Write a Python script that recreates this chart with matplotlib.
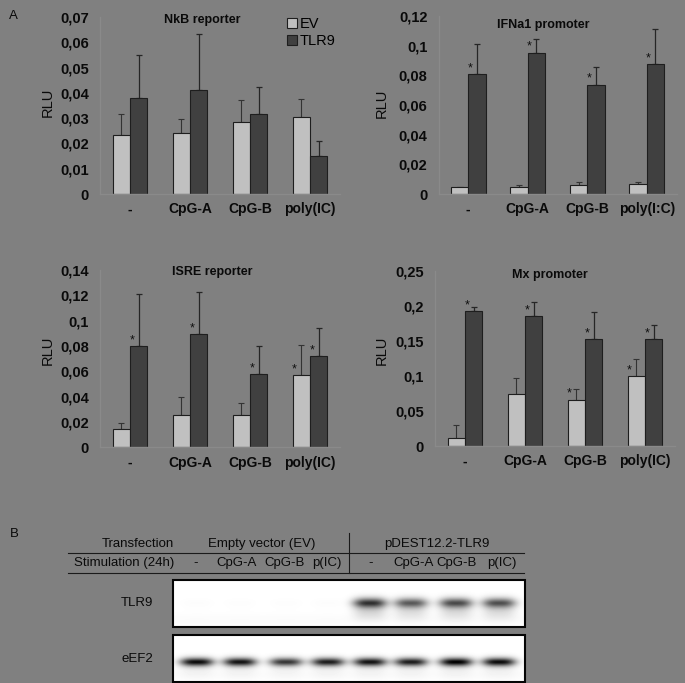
import numpy as np
import matplotlib
matplotlib.use('Agg')
import matplotlib.pyplot as plt
from matplotlib.patches import Patch, Rectangle
from matplotlib.ticker import FuncFormatter, MultipleLocator

plt.rcParams['font.family'] = ['Liberation Sans', 'DejaVu Sans']

# ---- data ----
cats = ['-', 'CpG-A', 'CpG-B', 'poly(IC)']
cats_ifn = ['-', 'CpG-A', 'CpG-B', 'poly(I:C)']

nkb_ev = [0.0233, 0.0243, 0.0286, 0.0303]
nkb_ev_err = [0.0084, 0.0052, 0.0085, 0.0071]
nkb_tlr9 = [0.0378, 0.0413, 0.0318, 0.0150]
nkb_tlr9_err = [0.0173, 0.0221, 0.0107, 0.0058]

ifn_ev = [0.0045, 0.0050, 0.0063, 0.0067]
ifn_ev_err = [0.0005, 0.0013, 0.0016, 0.0012]
ifn_tlr9 = [0.0809, 0.0953, 0.0737, 0.0876]
ifn_tlr9_err = [0.0204, 0.0090, 0.0119, 0.0234]

isre_ev = [0.0142, 0.0253, 0.0255, 0.0568]
isre_ev_err = [0.0048, 0.0142, 0.0092, 0.0237]
isre_tlr9 = [0.0800, 0.0892, 0.0576, 0.0721]
isre_tlr9_err = [0.0408, 0.0337, 0.0227, 0.0219]

mx_ev = [0.0109, 0.0737, 0.0661, 0.0998]
mx_ev_err = [0.0186, 0.0228, 0.0147, 0.0238]
mx_tlr9 = [0.1925, 0.1849, 0.1530, 0.1530]
mx_tlr9_err = [0.0062, 0.0199, 0.0376, 0.0195]

# significance marks
nkb_star_ev = [0, 0, 0, 0]
nkb_star_tlr9 = [0, 0, 0, 0]
ifn_star_ev = [0, 0, 0, 0]
ifn_star_tlr9 = [1, 1, 1, 1]
isre_star_ev = [0, 0, 0, 1]
isre_star_tlr9 = [1, 1, 1, 1]
mx_star_ev = [0, 0, 1, 1]
mx_star_tlr9 = [1, 1, 1, 1]

# western blot
transfections = ['Empty vector (EV)', 'pDEST12.2-TLR9']
lanes = ['-', 'CpG-A', 'CpG-B', 'p(IC)', '-', 'CpG-A', 'CpG-B', 'p(IC)']
tlr9_band = [0.012, 0.01, 0.01, 0.012, 0.78, 0.62, 0.68, 0.66]
eef2_band = [0.95, 0.92, 0.78, 0.88, 0.92, 0.88, 1.0, 0.95]

# ---- style ----
BG = '#808080'
EV_C = '#c0c0c0'
TLR_C = '#404040'
EDGE = '#1e1e1e'
W, H = 685, 683
BW = 0.29


def fmt(v, pos):
    s = '{:g}'.format(round(v, 4))
    return s.replace('.', ',')


def draw_panel(ax, labels, ev, ev_err, tl, tl_err, st_ev, st_tl, ymax, step,
               title, title_xy, rlu_xy):
    x = np.arange(len(labels))
    ax.set_facecolor(BG)
    ax.bar(x - BW / 2, ev, BW, color=EV_C, edgecolor=EDGE, linewidth=0.8,
           zorder=2)
    ax.bar(x + BW / 2, tl, BW, color=TLR_C, edgecolor=EDGE, linewidth=0.8,
           zorder=2)
    ax.errorbar(x - BW / 2, ev, yerr=[np.zeros(len(ev)), ev_err], fmt='none',
                ecolor='#333333', elinewidth=0.8, capsize=2.5, capthick=0.8,
                zorder=1)
    ax.errorbar(x + BW / 2, tl, yerr=[np.zeros(len(tl)), tl_err], fmt='none',
                ecolor='#262626', elinewidth=0.9, capsize=2.5, capthick=0.9,
                zorder=1)
    for i in range(len(labels)):
        if st_ev[i]:
            ax.annotate('*', (x[i] - BW + 0.1 * BW, ev[i]), xytext=(0, 2),
                        textcoords='offset points', ha='center',
                        va='baseline', fontsize=9, color='#101010')
        if st_tl[i]:
            ax.annotate('*', (x[i] + 0.1 * BW, tl[i]), xytext=(0, 2),
                        textcoords='offset points', ha='center',
                        va='baseline', fontsize=9, color='#101010')
    ax.set_xlim(-0.5, len(labels) - 0.5)
    ax.set_ylim(0, ymax)
    ax.yaxis.set_major_locator(MultipleLocator(step))
    ax.yaxis.set_major_formatter(FuncFormatter(fmt))
    ax.set_xticks(x)
    ax.set_xticklabels(labels)
    ax.tick_params(axis='both', length=0, labelcolor='#0a0a0a')
    ax.tick_params(axis='y', pad=8, labelsize=10.5)
    ax.tick_params(axis='x', pad=6, labelsize=10)
    for lab in ax.get_xticklabels() + ax.get_yticklabels():
        lab.set_fontweight('bold')
    for s in ['top', 'right']:
        ax.spines[s].set_visible(False)
    for s in ['left', 'bottom']:
        ax.spines[s].set_color('#8a8a8a')
        ax.spines[s].set_linewidth(1.0)
    ax.text(title_xy[0], title_xy[1], title, transform=ax.transAxes,
            ha='center', va='center', fontsize=9, fontweight='bold',
            color='#0a0a0a')
    ax.text(rlu_xy[0], rlu_xy[1], 'RLU', transform=ax.transAxes,
            rotation=90, ha='center', va='center', fontsize=10.5,
            color='#0a0a0a')


fig = plt.figure(figsize=(W / 100, H / 100), dpi=100, facecolor=BG)

# overlay in pixel coordinates for labels and the blot
bx = fig.add_axes([0, 0, 1, 1])
bx.set_xlim(0, W)
bx.set_ylim(H, 0)
bx.axis('off')
bx.patch.set_visible(False)


def px_axes(l, r, top, bottom):
    return fig.add_axes([l / W, 1 - bottom / H, (r - l) / W, (bottom - top) / H])


ax1 = px_axes(100, 340, 17, 194)
ax2 = px_axes(438.5, 676.5, 16, 194)
ax3 = px_axes(100, 340, 270, 447.3)
ax4 = px_axes(435, 675, 270.7, 446)

draw_panel(ax1, cats, nkb_ev, nkb_ev_err, nkb_tlr9, nkb_tlr9_err,
           nkb_star_ev, nkb_star_tlr9, 0.07, 0.01, 'NkB reporter',
           (0.425, 0.983), (-0.217, 0.52))
draw_panel(ax2, cats_ifn, ifn_ev, ifn_ev_err, ifn_tlr9, ifn_tlr9_err,
           ifn_star_ev, ifn_star_tlr9, 0.12, 0.02, 'IFNa1 promoter',
           (0.439, 0.949), (-0.237, 0.51))
draw_panel(ax3, cats, isre_ev, isre_ev_err, isre_tlr9, isre_tlr9_err,
           isre_star_ev, isre_star_tlr9, 0.14, 0.02, 'ISRE reporter',
           (0.467, 0.99), (-0.217, 0.549))
draw_panel(ax4, cats, mx_ev, mx_ev_err, mx_tlr9, mx_tlr9_err,
           mx_star_ev, mx_star_tlr9, 0.25, 0.05, 'Mx promoter',
           (0.479, 0.975), (-0.221, 0.548))

ax1.legend(handles=[Patch(facecolor=EV_C, edgecolor=EDGE, lw=0.8, label='EV'),
                    Patch(facecolor=TLR_C, edgecolor=EDGE, lw=0.8, label='TLR9')],
           loc='upper left', bbox_to_anchor=(0.78, 1.0), frameon=False,
           fontsize=10.5, handlelength=0.65, handleheight=0.65,
           handletextpad=0.2, labelspacing=0.22, borderpad=0,
           borderaxespad=0)

# panel letters
bx.text(13, 16, 'A', ha='center', va='center', fontsize=9.5, color='#0a0a0a')
bx.text(14, 534, 'B', ha='center', va='center', fontsize=9.5, color='#0a0a0a')

# ---- blot table ----
lane_x = [197, 240, 286, 328, 370, 411, 456, 499]
label_x = [196, 237, 285, 327, 371, 414, 457, 502]
tc = '#0a0a0a'
fs = 9.5
bx.text(174, 544, 'Transfection', ha='right', va='center', fontsize=fs, color=tc)
bx.text(174, 563, 'Stimulation (24h)', ha='right', va='center', fontsize=fs, color=tc)
bx.text(262, 544, transfections[0], ha='center', va='center', fontsize=fs, color=tc)
bx.text(437, 544, transfections[1], ha='center', va='center', fontsize=fs, color=tc)
for lx, lab in zip(label_x, lanes):
    bx.text(lx, 563, lab, ha='center', va='center', fontsize=fs, color=tc)
bx.plot([68, 524], [553, 553], color='#1a1a1a', lw=0.8)
bx.plot([68, 524], [573, 573], color='#1a1a1a', lw=0.8)
bx.plot([349, 349], [533, 573], color='#1a1a1a', lw=0.8)

bl, br = 173, 525


def blot_image(amps, yc, sy, sx, h, smear=0.0):
    xs = np.arange(bl, br) + 0.5
    ys = np.arange(h) + 0.5
    img = np.zeros((h, len(xs)))
    for xc, a in zip(lane_x, amps):
        px = np.exp(-np.abs((xs - xc) / sx) ** 3)
        py = np.exp(-np.abs((ys - yc) / sy) ** 1.8)
        if smear:
            py = py + smear * np.exp(-((ys - yc - 9) / 8) ** 2)
        img += a * np.outer(py, px)
    img += 0.015 * np.exp(-((np.arange(h)[:, None] - h + 8) / 6.0) ** 2)
    return 1 - np.clip(img, 0, 1)


for top, bot, amps, yc, sy, smear, name in [
        (580, 627, tlr9_band, 23, 5.0, 0.18, 'TLR9'),
        (635, 682, eef2_band, 27, 4.2, 0.04, 'eEF2')]:
    img = blot_image(amps, yc, sy, 16.5, bot - top, smear)
    bx.imshow(img, cmap='gray', vmin=0, vmax=1, extent=[bl, br, bot, top],
              aspect='auto', interpolation='bilinear')
    bx.add_patch(Rectangle((bl, top), br - bl, bot - top, fill=False,
                           edgecolor='#050505', lw=1.5))
    bx.text(137, (top + bot) / 2, name, ha='center', va='center',
            fontsize=fs, color=tc)
bx.set_xlim(0, W)
bx.set_ylim(H, 0)

fig.savefig('out.png', dpi=100, facecolor=BG)
